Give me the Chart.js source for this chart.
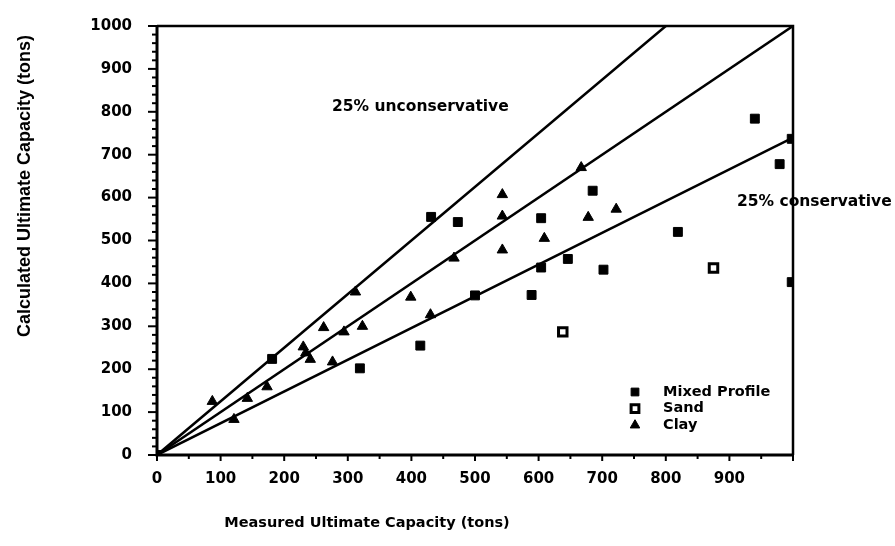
<!DOCTYPE html>
<html>
<head>
<meta charset="utf-8">
<script src="https://cdn.jsdelivr.net/npm/chart.js@4.4.0/dist/chart.umd.min.js"></script>
<style>
  body { margin: 0; background: #fff; }
  canvas { display: block; }
</style>
</head>
<body>
<canvas id="myChart" width="895" height="546"></canvas>
<script>
// measured vs calculated capacity (tons)
const mixedX = [0, 181, 319, 414, 431, 473, 500, 589, 604, 604, 646, 685, 702, 819, 940, 979, 998, 998];
const mixedY = [0, 224, 202, 255, 555, 543, 372, 373, 437, 552, 457, 616, 432, 520, 784, 678, 737, 403];
const sandX = [638, 875];
const sandY = [287, 436];
const clayX = [87, 121, 142, 173, 230, 234, 241, 262, 276, 294, 312, 323, 399, 430, 467, 543, 543, 543, 609, 667, 678, 722];
const clayY = [125, 83, 132, 159, 252, 238, 223, 297, 217, 287, 380, 300, 368, 327, 459, 607, 557, 478, 505, 670, 554, 573];
// reference lines: 25% unconservative, 1:1, 25% conservative
const lineSlopes = [1.25, 1.0, 0.74];
const axisMax = 1000;

const pts = (xs, ys) => xs.map((x, i) => ({ x: x, y: ys[i] }));

const lineSets = lineSlopes.map(s => {
  const xe = Math.min(axisMax, axisMax / s);
  return {
    label: 'line' + s,
    data: [{ x: 0, y: 0 }, { x: xe, y: s * xe }],
    showLine: true,
    borderColor: '#000',
    borderWidth: 2.5,
    pointRadius: 0,
    fill: false
  };
});

const decor = {
  id: 'decor',
  afterDraw(chart) {
    const ctx = chart.ctx;
    const a = chart.chartArea;
    const xs = chart.scales.x, ys = chart.scales.y;
    ctx.save();
    ctx.strokeStyle = '#000';
    ctx.fillStyle = '#000';
    // frame
    ctx.lineWidth = 3;
    ctx.beginPath();
    ctx.moveTo(a.left, a.top); ctx.lineTo(a.left, a.bottom); ctx.lineTo(a.right, a.bottom);
    ctx.stroke();
    ctx.lineWidth = 2.5;
    ctx.beginPath();
    ctx.moveTo(a.left, a.top); ctx.lineTo(a.right, a.top); ctx.lineTo(a.right, a.bottom);
    ctx.stroke();
    // tick marks
    ctx.lineWidth = 2;
    for (let v = 0; v <= axisMax; v += 20) {
      const py = ys.getPixelForValue(v);
      const len = v % 100 === 0 ? 9 : 5;
      ctx.beginPath(); ctx.moveTo(a.left - len, py); ctx.lineTo(a.left, py); ctx.stroke();
    }
    for (let v = 0; v <= axisMax; v += 50) {
      const px = xs.getPixelForValue(v);
      const len = v % 100 === 0 ? 6 : 4;
      ctx.beginPath(); ctx.moveTo(px, a.bottom); ctx.lineTo(px, a.bottom + len); ctx.stroke();
    }
    // annotations
    ctx.font = 'bold 15.5px "DejaVu Sans"';
    ctx.textBaseline = 'middle';
    ctx.textAlign = 'left';
    ctx.fillText('25% unconservative', 332, 107);
    ctx.fillText('25% conservative', 737, 202);
    // legend
    const items = [
      { t: 'Mixed Profile', ds: chart.data.datasets[3] },
      { t: 'Sand', ds: chart.data.datasets[4] },
      { t: 'Clay', ds: chart.data.datasets[5] }
    ];
    items.forEach((it, i) => {
      const y = 392 + i * 16.6;
      const ds = it.ds;
      ctx.fillStyle = ds.backgroundColor;
      ctx.strokeStyle = ds.borderColor;
      ctx.lineWidth = ds.borderWidth;
      Chart.helpers.drawPoint(ctx, { pointStyle: ds.pointStyle, radius: 5.5, borderWidth: ds.borderWidth }, 635, y);
      ctx.fillStyle = '#000';
      ctx.font = 'bold 14.5px "DejaVu Sans"';
      ctx.fillText(it.t, 663, y);
    });
    // axis titles
    ctx.fillStyle = '#000';
    ctx.textAlign = 'center';
    ctx.font = 'bold 14.5px "DejaVu Sans"';
    ctx.fillText('Measured Ultimate Capacity (tons)', 367, 523);
    ctx.translate(25, 186);
    ctx.rotate(-Math.PI / 2);
    ctx.font = 'bold 18px "Liberation Sans"';
    ctx.fillText('Calculated Ultimate Capacity (tons)', 0, 0);
    ctx.restore();
  }
};

new Chart(document.getElementById('myChart'), {
  type: 'scatter',
  data: {
    datasets: [
      ...lineSets,
      {
        label: 'Mixed Profile',
        data: pts(mixedX, mixedY),
        pointStyle: 'rect',
        pointRadius: 6.3,
        backgroundColor: '#000',
        borderColor: '#000',
        borderWidth: 1
      },
      {
        label: 'Sand',
        data: pts(sandX, sandY),
        pointStyle: 'rect',
        pointRadius: 6,
        backgroundColor: '#fff',
        borderColor: '#000',
        borderWidth: 3
      },
      {
        label: 'Clay',
        data: pts(clayX, clayY),
        pointStyle: 'triangle',
        pointRadius: 6,
        backgroundColor: '#000',
        borderColor: '#000',
        borderWidth: 1
      }
    ]
  },
  options: {
    responsive: false,
    animation: false,
    layout: { autoPadding: false, padding: { left: 0, right: 102, top: 14, bottom: 0 } },
    plugins: {
      legend: { display: false },
      tooltip: { enabled: false }
    },
    scales: {
      x: {
        type: 'linear',
        min: 0,
        max: axisMax,
        grid: { display: false },
        border: { display: false },
        ticks: {
          stepSize: 100,
          maxRotation: 0,
          padding: 7,
          color: '#000',
          font: { family: 'DejaVu Sans', weight: 'bold', size: 15 },
          callback: v => (v < axisMax ? String(v) : '')
        },
        afterFit: s => { s.height = 91; }
      },
      y: {
        type: 'linear',
        min: 0,
        max: axisMax,
        grid: { display: false },
        border: { display: false },
        ticks: {
          stepSize: 100,
          padding: 17,
          color: '#000',
          font: { family: 'DejaVu Sans', weight: 'bold', size: 15 },
          callback: v => String(v)
        },
        afterFit: s => { s.width = 157; }
      }
    }
  },
  plugins: [decor]
});
</script>
</body>
</html>
